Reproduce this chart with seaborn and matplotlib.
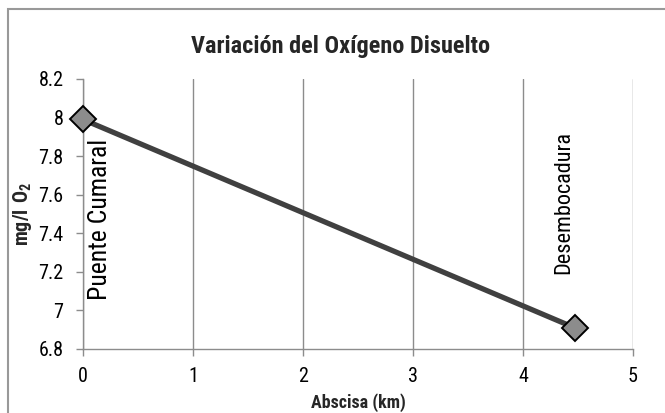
import matplotlib
matplotlib.use("Agg")
import matplotlib.pyplot as plt
import matplotlib.font_manager as fm
import seaborn as sns
import pandas as pd
from matplotlib.patches import Rectangle

abscisa = [0.0, 4.47]
oxigeno = [7.99, 6.91]
etiquetas = ["Puente Cumaral", "Desembocadura"]
xticks = [0, 1, 2, 3, 4, 5]
yticks = [6.8, 7.0, 7.2, 7.4, 7.6, 7.8, 8.0, 8.2]
ytick_labels = ["6.8", "7", "7.2", "7.4", "7.6", "7.8", "8", "8.2"]

sns.set_theme(style="white")
names = {f.name for f in fm.fontManager.ttflist}
fam = "Liberation Sans"
for cand in ["Liberation Sans Narrow", "Roboto Condensed", "Open Sans Condensed", "DejaVu Sans Condensed"]:
    if cand in names:
        fam = cand
        break
plt.rcParams["font.family"] = [fam, "DejaVu Sans"]
plt.rcParams["mathtext.fontset"] = "custom"
plt.rcParams["mathtext.bf"] = fam + ":bold"
plt.rcParams["mathtext.rm"] = fam

df = pd.DataFrame({"x": abscisa, "y": oxigeno})

fig = plt.figure(figsize=(6.65, 4.13), dpi=100)
ax = fig.add_axes([83/665, 1-349/413, (633-83)/665, (349-79)/413])

sns.lineplot(data=df, x="x", y="y", ax=ax, color="#404040", linewidth=3.8,
             marker="D", markersize=13, markerfacecolor="#8c8c8c",
             markeredgecolor="black", markeredgewidth=1.4, clip_on=False, zorder=5)

ax.set_xlim(0, 5)
ax.set_ylim(6.8, 8.2)
ax.set_xticks(xticks)
ax.set_yticks(yticks)
ax.set_yticklabels(ytick_labels)
ax.xaxis.grid(True, color="#8c8c8c", linewidth=1.0)
ax.yaxis.grid(False)
for s in ["top", "right"]:
    ax.spines[s].set_visible(False)
for s in ["left", "bottom"]:
    ax.spines[s].set_color("#8c8c8c")
    ax.spines[s].set_linewidth(1.0)
ax.tick_params(axis="both", which="major", length=5, width=1.0, color="#8c8c8c",
               labelsize=14.5, labelcolor="black", direction="out", bottom=True, left=True)
ax.tick_params(axis="x", pad=8)
ax.tick_params(axis="y", pad=9)

fig.text(341/665, 1 - 46/413, "Variación del Oxígeno Disuelto", fontsize=17.5,
         fontweight="bold", ha="center", va="center")
ax.set_xlabel("Abscisa (km)", fontsize=13, fontweight="bold", labelpad=5)
ax.set_ylabel(r"$\mathbf{mg/l\ O_2}$", fontsize=14.5, labelpad=3)

ax.text(0.155, 7.47, etiquetas[0], rotation=90, ha="center", va="center",
        fontsize=18.5, color="black")
ax.text(4.37, 7.56, etiquetas[1], rotation=90, ha="center", va="center",
        fontsize=16, color="black")

fig.patches.append(Rectangle((8/665, -0.1), 1.2, 1.1 - 9/413, transform=fig.transFigure,
                             fill=False, edgecolor="#999999", linewidth=1.5))

fig.savefig("out.png", dpi=100)
